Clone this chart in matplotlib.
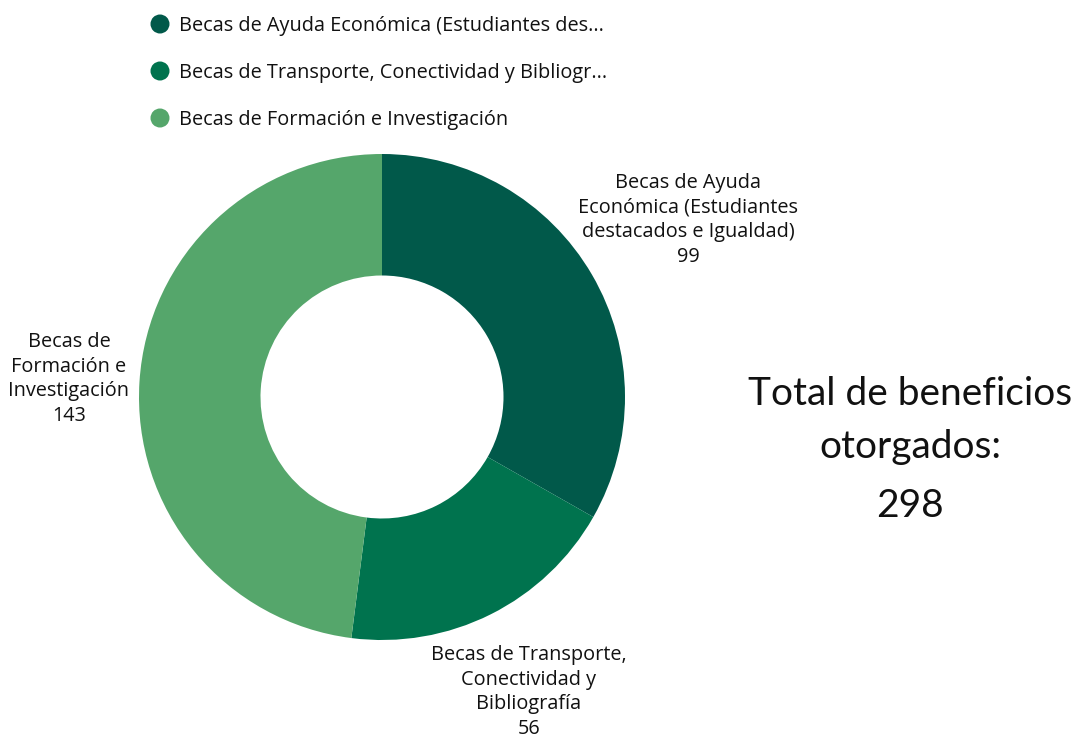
import matplotlib
matplotlib.use("Agg")
import matplotlib.pyplot as plt
from matplotlib.patches import Circle

categories = ["Becas de Ayuda Económica (Estudiantes destacados e Igualdad)",
              "Becas de Transporte, Conectividad y Bibliografía",
              "Becas de Formación e Investigación"]
legend_labels = ["Becas de Ayuda Económica (Estudiantes des...",
                 "Becas de Transporte, Conectividad y Bibliogr...",
                 "Becas de Formación e Investigación"]
slice_labels = ["Becas de Ayuda\nEconómica (Estudiantes\ndestacados e Igualdad)",
                "Becas de Transporte,\nConectividad y\nBibliografía",
                "Becas de\nFormación e\nInvestigación"]
values = [99, 56, 143]
colors = ["#01594A", "#00734E", "#55A66B"]
total = sum(values)

W, H = 1074, 738
fig = plt.figure(figsize=(W/100, H/100), dpi=100)
ax = fig.add_axes([0, 0, 1, 1])

cx, cy, R = 382, H - 397, 243
ax.pie(values, colors=colors, startangle=90, counterclock=False,
       center=(cx, cy), radius=R, wedgeprops=dict(width=R * 0.5, linewidth=0),
       frame=True)
ax.set_xlim(0, W)
ax.set_ylim(0, H)
ax.set_aspect("equal")
ax.axis("off")

lab_font = "Open Sans"
lab_pos = [(688, H - 220), (529, H - 692), (69, H - 379)]
for lab, v, (x, y) in zip(slice_labels, values, lab_pos):
    ax.text(x, y, f"{lab}\n{v}", ha="center", va="center", fontsize=14.3,
            family=lab_font, color="#111111", linespacing=1.3)

leg_y = [24, 71, 118]
for lab, c, y in zip(legend_labels, colors, leg_y):
    ax.add_patch(Circle((160, H - y), 9.5, color=c, lw=0))
    ax.text(179, H - y - 2, lab, ha="left", va="center", fontsize=14.3,
            family=lab_font, color="#111111")

tot_kw = dict(ha="center", va="center", fontsize=28, family="Lato",
              color="#111111")
ax.text(910, H - 394, "Total de beneficios", **tot_kw)
ax.text(910, H - 447, "otorgados:", **tot_kw)
ax.text(910, H - 506, f"{total}", **tot_kw)

fig.savefig("out.png", dpi=100, facecolor="white")
